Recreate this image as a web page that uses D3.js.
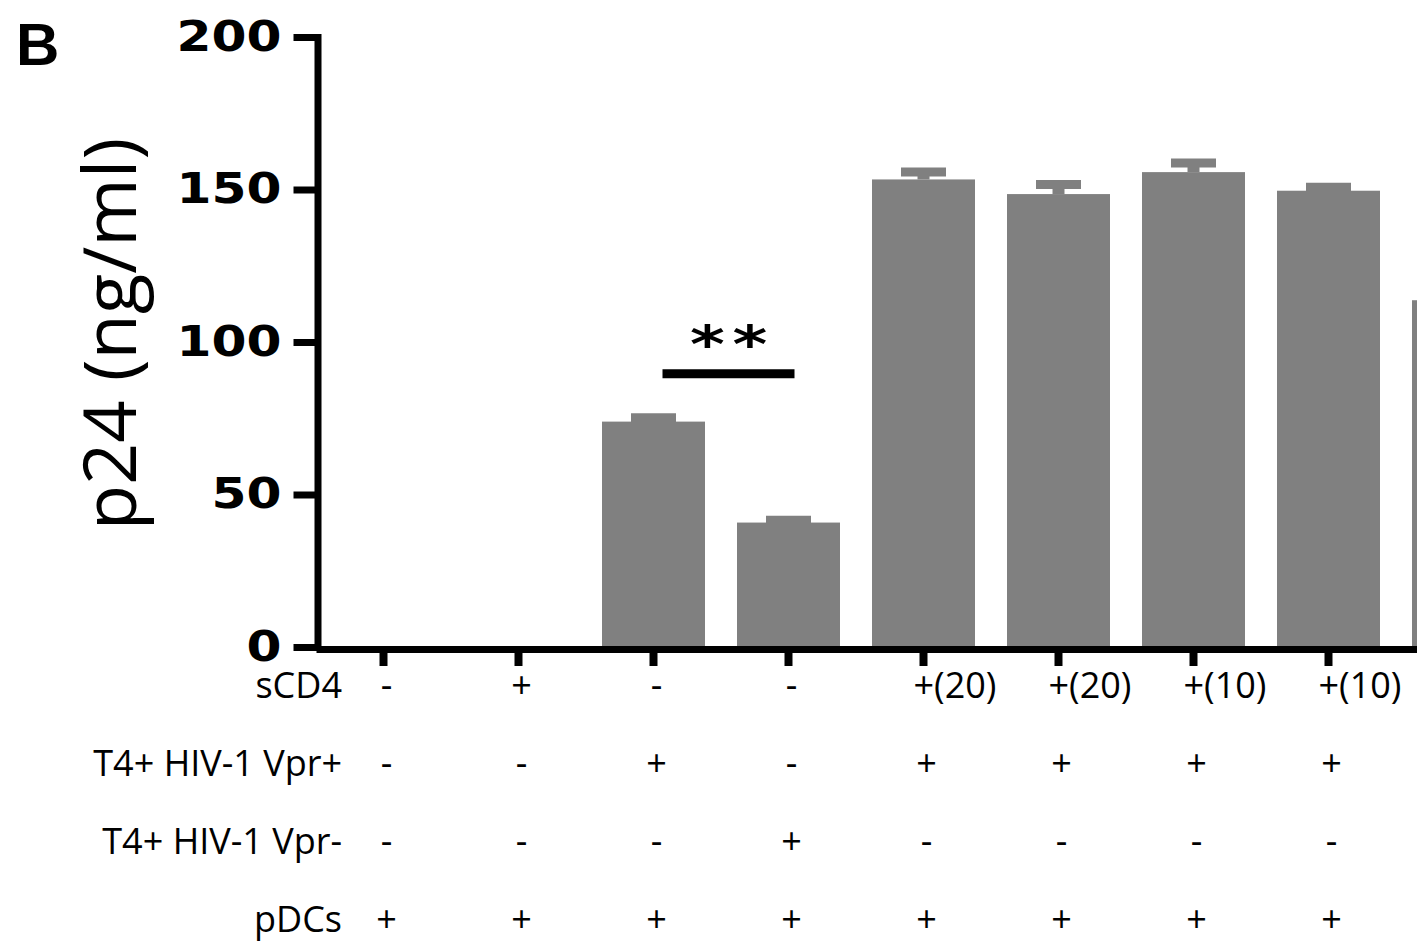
<!DOCTYPE html>
<html>
<head>
<meta charset="utf-8">
<script src="https://cdn.jsdelivr.net/npm/d3@7"></script>
<style>
  html, body { margin: 0; padding: 0; background: #fff; }
  svg { display: block; }
</style>
</head>
<body>
<svg id="chart" width="1417" height="945"></svg>
<script>
// ---------- data ----------
const categories = ["C1", "C2", "C3", "C4", "C5", "C6", "C7", "C8", "C9"];
const values = [0, 0, 73.9, 40.8, 153.3, 148.5, 155.7, 149.6, 113.7];
const errors = [0, 0, 2.7, 2.2, 3.9, 4.6, 4.5, 2.6, 0];
const sCD4Row = ["-", "+", "-", "-", "+(20)", "+(20)", "+(10)", "+(10)", ""];
const vprPlusRow = ["-", "-", "+", "-", "+", "+", "+", "+", ""];
const vprMinusRow = ["-", "-", "-", "+", "-", "-", "-", "-", ""];
const pDCsRow = ["+", "+", "+", "+", "+", "+", "+", "+", ""];
const rowLabels = ["sCD4", "T4+ HIV-1 Vpr+", "T4+ HIV-1 Vpr-", "pDCs"];
const yTicks = [0, 50, 100, 150, 200];
const sigPair = ["C3", "C4"];
const sigValue = 89.6;
const sigLabel = "**";
const panelLabel = "B";
const yTitle = "p24 (ng/ml)";

// ---------- layout ----------
const svg = d3.select("#chart");
const axisX = 317.5;
const y = d3.scaleLinear().domain([0, 200]).range([647, 37]);
const x = d3.scaleBand().domain(categories).range([316, 316 + 135 * categories.length])
  .paddingInner(0.237).paddingOuter(0.1185);
const bw = x.bandwidth();
const cx = c => x(c) + bw / 2;
const grey = "#808080";
const SW = 7;

// bars
svg.append("g").selectAll("rect").data(categories).join("rect")
  .attr("x", d => x(d))
  .attr("width", bw)
  .attr("y", (d, i) => y(values[i]))
  .attr("height", (d, i) => y(0) - y(values[i]))
  .attr("fill", grey);

// error bars (upper only)
const eg = svg.append("g");
categories.forEach((c, i) => {
  if (!errors[i]) return;
  const top = y(values[i] + errors[i]);
  eg.append("line").attr("x1", cx(c)).attr("x2", cx(c))
    .attr("y1", y(values[i])).attr("y2", top + 4)
    .attr("stroke", grey).attr("stroke-width", 12);
  eg.append("line").attr("x1", cx(c) - 22.5).attr("x2", cx(c) + 22.5)
    .attr("y1", top + 4.5).attr("y2", top + 4.5)
    .attr("stroke", grey).attr("stroke-width", 9);
});

// y axis
const yAxis = svg.append("g").attr("transform", `translate(${axisX},0)`)
  .call(d3.axisLeft(y).tickValues(yTicks).tickSize(24).tickSizeOuter(0).tickPadding(12));
yAxis.select(".domain").attr("stroke", "#000").attr("stroke-width", SW).attr("stroke-linecap", "square");
yAxis.selectAll(".tick line").attr("stroke", "#000").attr("stroke-width", SW);
yAxis.selectAll(".tick text")
  .attr("font-family", "DejaVu Sans").attr("font-weight", "bold").attr("font-size", 42)
  .attr("fill", "#000")
  .attr("textLength", d => String(d).length * 35)
  .attr("lengthAdjust", "spacingAndGlyphs");

// x axis
const xAxis = svg.append("g").attr("transform", `translate(0,${y(0) + 2})`)
  .call(d3.axisBottom(x).tickSize(17).tickSizeOuter(0).tickFormat(""));
xAxis.select(".domain").attr("stroke", "#000").attr("stroke-width", SW);
xAxis.selectAll(".tick line").attr("stroke", "#000").attr("stroke-width", 8);

// significance
const sx1 = cx(sigPair[0]) + 9, sx2 = cx(sigPair[1]) + 6;
svg.append("line").attr("x1", sx1).attr("x2", sx2)
  .attr("y1", y(sigValue)).attr("y2", y(sigValue))
  .attr("stroke", "#000").attr("stroke-width", 9);
svg.append("text")
  .attr("transform", `translate(${(sx1 + sx2) / 2 + 4},361.5) scale(1.28,1)`)
  .attr("text-anchor", "middle")
  .attr("letter-spacing", 6)
  .attr("font-family", "DejaVu Sans").attr("font-weight", "bold").attr("font-size", 52)
  .text(sigLabel);

// panel label
svg.append("text").attr("x", 16).attr("y", 65)
  .attr("font-family", "Liberation Sans, Arial, sans-serif").attr("font-weight", "bold")
  .attr("font-size", 60).text(panelLabel);

// y title
svg.append("text").attr("transform", "translate(136,334) rotate(-90)")
  .attr("text-anchor", "middle")
  .attr("font-family", "Open Sans").attr("font-size", 74)
  .text(yTitle);

// condition table
const rows = [sCD4Row, vprPlusRow, vprMinusRow, pDCsRow];
const rowY = d3.scalePoint().domain(d3.range(rows.length)).range([698, 932]);
const tg = svg.append("g").attr("font-family", "Open Sans").attr("font-size", 36).attr("fill", "#000");
rowLabels.forEach((lab, r) => {
  tg.append("text").attr("x", 342).attr("y", rowY(r)).attr("text-anchor", "end").text(lab);
  tg.selectAll(null).data(rows[r]).join("text")
    .attr("x", (d, i) => d.length > 1 ? cx(categories[i]) - 10 : cx(categories[i]) + 3)
    .attr("y", rowY(r))
    .attr("text-anchor", d => d.length > 1 ? "start" : "middle")
    .text(d => d);
});
</script>
</body>
</html>
